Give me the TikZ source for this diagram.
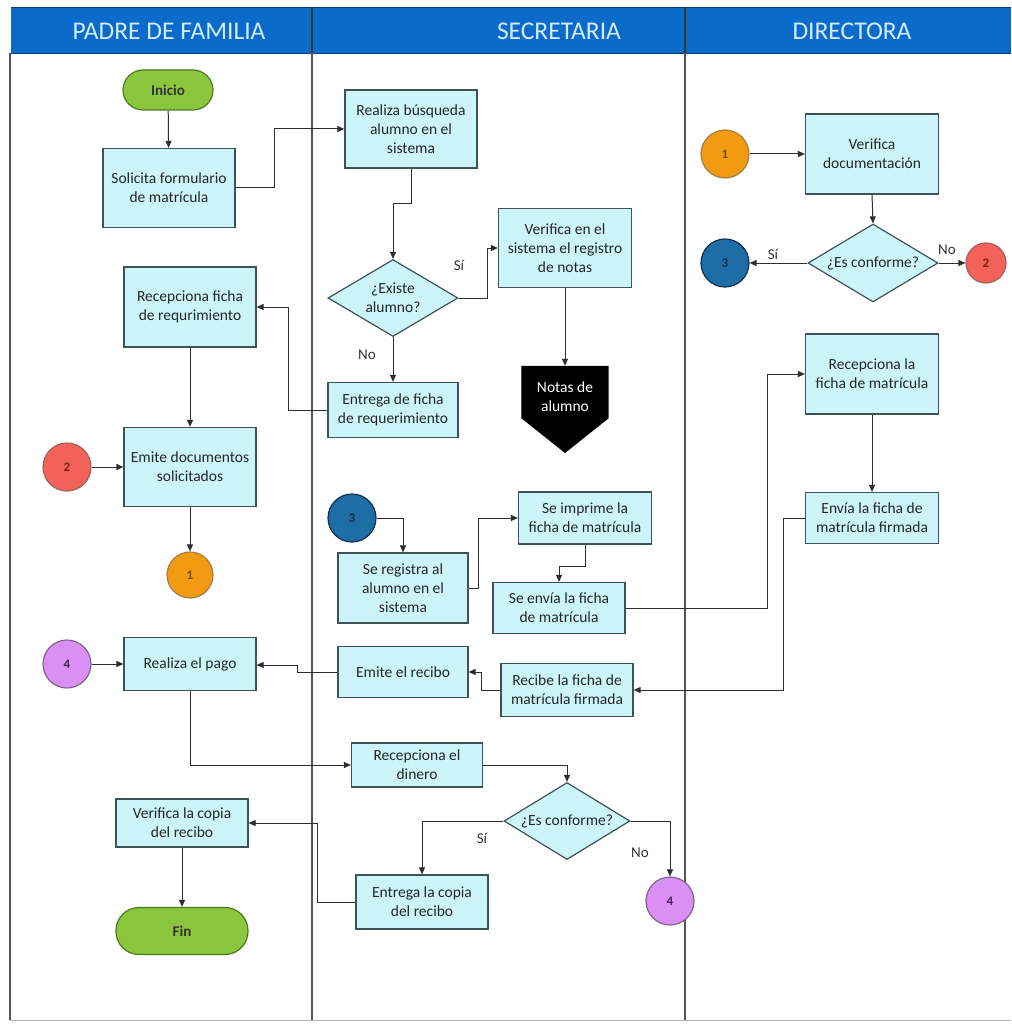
\documentclass[tikz,border=0pt]{standalone}
\usepackage{fontspec}
\setmainfont{Carlito}
\usetikzlibrary{arrows.meta,shapes.geometric,calc}
\definecolor{hdr}{HTML}{0B6BCB}
\definecolor{hdrtxt}{HTML}{D3ECFF}
\definecolor{boxfill}{HTML}{CBF5F8}
\definecolor{boxdraw}{HTML}{3E5358}
\definecolor{termfill}{HTML}{8CC63F}
\definecolor{termdraw}{HTML}{4C7A1E}
\definecolor{orangec}{HTML}{F29A12}
\definecolor{orangect}{HTML}{7A4A00}
\definecolor{redc}{HTML}{F2625A}
\definecolor{redct}{HTML}{7A1E18}
\definecolor{bluec}{HTML}{1F6DA6}
\definecolor{bluect}{HTML}{0E3050}
\definecolor{violetc}{HTML}{DA90F2}
\definecolor{violetct}{HTML}{4A2060}
\definecolor{lanecol}{HTML}{555555}
\definecolor{linecol}{HTML}{2E2E2E}
\tikzset{
  pbox/.style={draw=boxdraw, fill=boxfill, line width=1.2pt, align=center,
    inner sep=1pt, font=\fontsize{15.5}{19}\selectfont, text=black!85},
  pdiam/.style={diamond, draw=boxdraw, fill=boxfill, line width=1.2pt, align=center,
    inner sep=0pt, aspect=1.7, font=\fontsize{15.5}{19}\selectfont, text=black!85},
  pterm/.style={draw=termdraw, fill=termfill, line width=1.2pt, rounded corners=20pt,
    minimum width=90pt, minimum height=40pt, font=\bfseries\fontsize{15}{18}\selectfont, text=black!80},
  pconn/.style={circle, line width=1.2pt, minimum size=48pt, inner sep=0pt,
    font=\bfseries\fontsize{13}{15}\selectfont},
  arr/.style={draw=linecol, line width=1pt, -{Triangle[length=7pt,width=6pt]}},
  plab/.style={font=\fontsize{15}{17}\selectfont, text=black!80, inner sep=1pt},
  htxt/.style={font=\fontsize{25.5}{28}\selectfont, text=hdrtxt, inner sep=0pt},
}
\begin{document}
\begin{tikzpicture}[x=1pt,y=-1pt]
\useasboundingbox (0,0) rectangle (1011,1024);
% header
\fill[hdr] (11,7) rectangle (1011,53);
\draw[hdr!60!black, line width=0.8pt] (11,7) -- (1011,7);
\draw[hdr!60!black, line width=0.8pt] (11,53) -- (1011,53);
\draw[black!80, line width=1.2pt] (312,7) -- (312,53);
\draw[black!80, line width=1.2pt] (685,7) -- (685,53);
\node[htxt] (h1) at (169,31) {PADRE DE FAMILIA};
\node[htxt] (h2) at (559,31) {SECRETARIA};
\node[htxt] (h3) at (852,31) {DIRECTORA};
% lanes
\draw[lanecol, line width=1.3pt] (10,53) -- (10,1020);
\draw[lanecol, line width=1.3pt] (312,53) -- (312,1021);
\draw[lanecol, line width=1.3pt] (685,53) -- (685,1021);
\draw[black!30, line width=1pt] (10,1020) -- (1011,1020);

% lane 1
\node[pterm] (ini) at (168,90) {Inicio};
\node[pbox, minimum width=132pt, minimum height=79pt] (sol) at (169,188) {Solicita formulario\\de matrícula};
\node[pbox, minimum width=132pt, minimum height=80pt] (rec) at (190,307) {Recepciona ficha\\de requrimiento};
\node[pbox, minimum width=132pt, minimum height=79pt] (emi) at (190,467) {Emite documentos\\solicitados};
\node[pconn, fill=redc, draw=redct!70] (c2a) at (67,467) {\textcolor{redct}{2}};
\node[pconn, fill=orangec, draw=orangect!70, minimum size=46pt] (c1a) at (190,575) {\textcolor{orangect}{1}};
\node[pconn, fill=violetc, draw=violetct!70] (c4a) at (67,664) {\textcolor{violetct}{4}};
\node[pbox, minimum width=132pt, minimum height=53pt] (pago) at (190,664) {Realiza el pago};
\node[pbox, minimum width=132pt, minimum height=48pt] (vcop) at (182,823) {Verifica la copia\\del recibo};
\node[pterm, minimum width=132pt, minimum height=47pt, rounded corners=23pt] (fin) at (182,931) {Fin};

% lane 2
\node[pbox, minimum width=132pt, minimum height=78pt] (bus) at (411,129) {Realiza búsqueda\\alumno en el\\sistema};
\node[pdiam, minimum width=130pt, minimum height=77pt] (ex) at (393,298) {¿Existe\\alumno?};
\node[pbox, minimum width=133pt, minimum height=79pt] (ver) at (565,248) {Verifica en el\\sistema el registro\\de notas};
\node[pbox, minimum width=130pt, minimum height=55pt] (ent) at (393,410) {Entrega de ficha\\de requerimiento};
\node[minimum width=87pt, minimum height=52pt, inner sep=0pt] (notas) at (565,392) {};
\fill[black] (notas.north west) -- (notas.north east) -- (notas.south east) -- (565,453) -- (notas.south west) -- cycle;
\node[align=center, text=white, font=\fontsize{15.5}{19}\selectfont] (notastxt) at (565,397) {Notas de\\alumno};
\node[plab] (lsi1) at (459,265) {Sí};
\node[plab] (lno1) at (367,355) {No};

\node[pconn, fill=bluec, draw=bluect] (c3b) at (352,518) {\textcolor{bluect}{3}};
\node[pbox, minimum width=130pt, minimum height=70pt] (reg) at (403,588) {Se registra al\\alumno en el\\sistema};
\node[pbox, minimum width=133pt, minimum height=52pt] (imp) at (585,518) {Se imprime la\\ficha de matrícula};
\node[pbox, minimum width=132pt, minimum height=51pt] (env) at (559,608) {Se envía la ficha\\de matrícula};
\node[pbox, minimum width=130pt, minimum height=51pt] (emr) at (403,672) {Emite el recibo};
\node[pbox, minimum width=132pt, minimum height=53pt] (reci) at (567,690) {Recibe la ficha de\\matrícula firmada};
\node[pbox, minimum width=131pt, minimum height=44pt] (din) at (417,765) {Recepciona el\\dinero};
\node[pdiam, minimum width=126pt, minimum height=77pt] (sec) at (567,821) {¿Es conforme?};
\node[pbox, minimum width=132pt, minimum height=54pt] (ecop) at (422,902) {Entrega la copia\\del recibo};
\node[pconn, fill=violetc, draw=violetct!70] (c4b) at (670,901) {\textcolor{violetct}{4}};
\node[plab] (lsi2) at (482,838) {Sí};
\node[plab] (lno2) at (640,853) {No};

% lane 3
\node[pconn, fill=orangec, draw=orangect!70] (c1b) at (725,154) {\textcolor{orangect}{1}};
\node[pbox, minimum width=133pt, minimum height=80pt] (vdoc) at (872,154) {Verifica\\documentación};
\node[pdiam, minimum width=130pt, minimum height=78pt] (dir) at (873,263) {¿Es conforme?};
\node[pconn, fill=bluec, draw=bluect] (c3a) at (725,263) {\textcolor{bluect}{3}};
\node[pconn, fill=redc, draw=redct!70, minimum size=40pt] (c2b) at (986,263) {\textcolor{redct}{2}};
\node[plab] (lsi3) at (773,254) {Sí};
\node[plab] (lno3) at (947,250) {No};
\node[pbox, minimum width=133pt, minimum height=80pt] (recf) at (872,374) {Recepciona la\\ficha de matrícula};
\node[pbox, minimum width=133pt, minimum height=51pt] (envf) at (872,518) {Envía la ficha de\\matrícula firmada};

% connectors
\draw[arr] (ini) -- (sol);
\draw[arr] (sol.east) -- ++(39,0) |- (bus.west);
\draw[arr] (bus.south) -- ++(0,35) -| (ex.north);
\draw[arr] (ex.east) -- ++(29,0) |- (ver.west);
\draw[arr] (ex.south) -- (ent.north);
\draw[arr] (ent.west) -- ++(-39,0) |- (rec.east);
\draw[arr] (ver.south) -- (notas.north);
\draw[arr] (rec.south) -- (emi.north);
\draw[arr] (c2a.east) -- (emi.west);
\draw[arr] (emi.south) -- (c1a.north);
\draw[arr] (c1b.east) -- (vdoc.west);
\draw[arr] (vdoc.south) -- (dir.north);
\draw[arr] (dir.west) -- (c3a.east);
\draw[arr] (dir.east) -- (c2b.west);
\draw[arr] (c3b.east) -| (reg.north);
\draw[arr] (reg.east) -- ++(10,0) |- (imp.west);
\draw[arr] (imp.south) -- ++(0,22) -| (env.north);
\draw[arr] (env.east) -- ++(142,0) |- (recf.west);
\draw[arr] (recf.south) -- (envf.north);
\draw[arr] (envf.west) -- ++(-21,0) |- (reci.east);
\draw[arr] (reci.west) -- ++(-19,0) |- (emr.east);
\draw[arr] (emr.west) -- ++(-40,0) |- ([yshift=-1pt]pago.east);
\draw[arr] (c4a.east) -- (pago.west);
\draw[arr] (pago.south) |- (din.west);
\draw[arr] (din.east) -| (sec.north);
\draw[arr] (sec.west) -| (ecop.north);
\draw[arr] (sec.east) -| (c4b.north);
\draw[arr] (ecop.west) -- ++(-38,0) |- (vcop.east);
\draw[arr] (vcop.south) -- (fin.north);
\end{tikzpicture}
\end{document}
